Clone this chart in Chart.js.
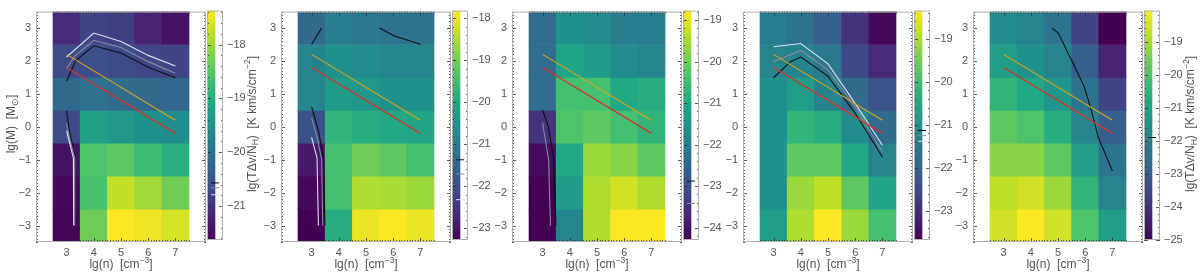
<!DOCTYPE html>
<html>
<head>
<meta charset="utf-8">
<script src="https://cdn.jsdelivr.net/npm/chart.js@4.4.1/dist/chart.umd.min.js"></script>
<style>
  body { margin: 0; background: #fff; width: 1200px; height: 273px; overflow: hidden; position: relative; }
  .box { position: absolute; top: 0; height: 273px; }
</style>
</head>
<body>
<script>
// grid of the maps
const nDens = [3, 4, 5, 6, 7]
const lgMass = [3, 2, 1, 0, -1, -2, -3]

// colour bar ranges, lg(T dv / N_H)
const cbLo = [-21.63, -23.28, -24.30, -23.67, -25.00]
const cbHi = [-17.37, -17.82, -18.77, -18.35, -18.06]

// map values, rows from lg(M)=3 down to -3, columns n = 3..7
const map1 = [
  [-21.12, -20.78, -20.86, -21.20, -21.42],
  [-20.69, -20.61, -20.65, -20.74, -20.78],
  [-20.18, -20.05, -20.14, -20.18, -20.22],
  [-20.69, -19.20, -19.37, -19.50, -19.59],
  [-21.42, -18.56, -18.43, -18.73, -18.95],
  [-21.54, -18.61, -17.75, -17.97, -18.31],
  [-21.59, -18.31, -17.37, -17.46, -17.63]
]
const map2 = [
  [-21.37, -20.99, -21.10, -21.21, -21.21],
  [-20.82, -20.55, -20.66, -20.82, -20.82],
  [-20.82, -20.28, -20.39, -20.55, -20.55],
  [-21.92, -19.73, -19.90, -20.00, -20.11],
  [-22.90, -19.46, -19.02, -19.19, -19.46],
  [-23.17, -19.46, -18.48, -18.53, -18.64],
  [-23.28, -19.90, -17.98, -17.82, -17.98]
]
const map3 = [
  [-22.36, -21.54, -21.65, -21.98, -21.98],
  [-22.36, -21.09, -21.26, -21.65, -21.81],
  [-22.36, -20.43, -20.43, -20.98, -20.87],
  [-23.47, -20.32, -20.15, -20.43, -20.71],
  [-24.13, -20.98, -19.60, -19.77, -20.15],
  [-24.30, -21.26, -19.43, -19.16, -19.43],
  [-24.30, -21.81, -19.43, -18.77, -18.77]
]
const map4 = [
  [-21.44, -21.65, -22.07, -22.87, -23.56],
  [-21.28, -21.28, -21.54, -22.50, -23.03],
  [-21.01, -20.74, -21.28, -21.81, -22.34],
  [-21.01, -20.21, -20.37, -21.12, -21.81],
  [-21.01, -19.68, -19.68, -20.48, -21.28],
  [-21.01, -19.15, -18.88, -19.68, -20.58],
  [-20.74, -18.99, -18.35, -19.15, -19.95]
]
const map5 = [
  [-21.67, -21.88, -22.36, -23.61, -25.00],
  [-21.18, -21.53, -21.88, -22.92, -24.31],
  [-20.49, -20.84, -21.39, -22.36, -23.61],
  [-19.80, -20.00, -20.70, -21.88, -22.92],
  [-19.31, -19.31, -19.80, -21.18, -22.36],
  [-18.75, -18.55, -19.10, -20.49, -21.88],
  [-18.55, -18.06, -18.55, -20.00, -21.18]
]

// straight relations, same in every panel
const fitOrange = [[3, 2.2], [7, 0.2]]
const fitRed = [[3, 1.8], [7, -0.2]]

// curves [lg n, lg M]
const p1Black = [[3, 1.39], [3.34, 2.02], [4, 2.46], [5, 2.24], [6, 1.81], [7, 1.49]]
const p1Grey = [[3, 1.78], [3.3, 2.15], [4, 2.63], [5, 2.41], [6, 1.98], [7, 1.63]]
const p1White = [[3, 2.12], [4, 2.85], [5, 2.59], [6, 2.17], [7, 1.85]]
const p1BlackLow = [[3, 0.48], [3.1, -0.1], [3.32, -0.95], [3.32, -3]]
const p1GreyLow = [[3, 0.1], [3.12, -0.4], [3.3, -0.95], [3.3, -3]]
const p1WhiteLow = [[3, -0.12], [3.25, -0.95], [3.26, -3]]

const p2BlackA = [[3, 2.51], [3.37, 3.0]]
const p2BlackB = [[5.5, 3.0], [6.05, 2.76], [7, 2.51]]
const p2BlackLow = [[3, 0.61], [3.25, -0.12], [3.44, -0.95], [3.49, -3]]
const p2GreyLow = [[3, 0.27], [3.2, -0.32], [3.37, -1.0], [3.41, -3]]
const p2WhiteLow = [[3, -0.32], [3.2, -0.95], [3.25, -3]]

const p3BlackLow = [[3, 0.51], [3.22, -0.02], [3.41, -1.0], [3.49, -3]]
const p3GreyLow = [[3, 0.12], [3.22, -1.0], [3.29, -3]]

const p4White = [[3, 2.43], [4, 2.53], [5, 1.91], [6, 0.71], [7, -0.56]]
const p4Grey = [[3, 1.98], [4, 2.32], [5, 1.73], [6, 0.61], [7, -0.76]]
const p4Black = [[3, 1.49], [3.62, 1.98], [4, 2.12], [5, 1.54], [6, 0.41], [7, -0.92]]

const p5Black = [[4.79, 3.0], [5.01, 2.85], [5.5, 2.02], [5.97, 1.21], [6.24, 0.46], [6.48, -0.32], [7, -1.34]]

// marks on the colour bars (black, grey, white)
const cbMarks1 = [-20.57, -20.66, -20.79]
const cbMarks2 = [-21.37, -21.71, -22.32]
const cbMarks3 = [-22.88, -23.42]
const cbMarks4 = [-21.13, -21.25, -21.38]
const cbMarks5 = [-21.90]

const BLACK = '#111111', GREY = '#8a8a9c', WHITE = '#dcdcf2'
const ORANGE = '#d8a31a', RED = '#d6352a'
const TXT = '#555555'
const FONT = 'Liberation Sans, Arial, sans-serif'

const viridisStops = ['#440154', '#482475', '#414487', '#355f8d', '#2a788e', '#21918c',
  '#22a884', '#44bf70', '#7ad151', '#bddf26', '#fde725']

const hex = h => [parseInt(h.slice(1, 3), 16), parseInt(h.slice(3, 5), 16), parseInt(h.slice(5, 7), 16)]
const viridis = t => {
  t = Math.max(0, Math.min(1, t))
  const f = t * 10, i = Math.min(9, Math.floor(f)), r = f - i
  const a = hex(viridisStops[i]), b = hex(viridisStops[i + 1])
  const c = a.map((v, k) => Math.round(v + (b[k] - v) * r))
  return `rgb(${c[0]},${c[1]},${c[2]})`
}

const minus = v => (v < 0 ? '\u2212' + Math.abs(v) : String(v))
// integer ticks between the axis limits
const intTicks = s => {
  const t = []
  for (let v = Math.ceil(s.min - 1e-9); v <= s.max + 1e-9; v++) t.push({ value: v })
  s.ticks = t
}
const pts = arr => arr.map(([x, y]) => ({ x, y }))

// text with sub/superscripts
const drawRich = (ctx, segs, cx, cy, rot, size) => {
  ctx.save()
  ctx.translate(cx, cy)
  if (rot) ctx.rotate(-Math.PI / 2)
  ctx.fillStyle = TXT
  ctx.textBaseline = 'middle'
  ctx.textAlign = 'left'
  const fontOf = s => (s.s ? size * 0.72 : size) + 'px ' + FONT
  let total = 0
  segs.forEach(s => { ctx.font = fontOf(s); total += ctx.measureText(s.t).width })
  let x = -total / 2
  segs.forEach(s => {
    ctx.font = fontOf(s)
    const dy = s.s === 'sup' ? -size * 0.38 : s.s === 'sub' ? size * 0.28 : 0
    ctx.fillText(s.t, x, dy)
    x += ctx.measureText(s.t).width
  })
  ctx.restore()
}

const richText = {
  id: 'richText',
  afterDraw(chart, args, opts) {
    (opts.items || []).forEach(it => drawRich(chart.ctx, it.segs, it.x, it.y, it.rot, it.size))
  }
}

// frame and small inward ticks along the edges
const frameTicks = {
  id: 'frameTicks',
  afterDatasetsDraw(chart, args, opts) {
    if (!opts.on) return
    const { ctx, chartArea: a } = chart
    ctx.save()
    ctx.strokeStyle = 'rgba(40,40,40,0.75)'
    ctx.lineWidth = 1
    ctx.beginPath()
    const ys = chart.scales.y
    for (let v = Math.ceil(ys.min / opts.ystep) * opts.ystep; v <= ys.max + 1e-9; v += opts.ystep) {
      const p = Math.round(ys.getPixelForValue(v)) + 0.5
      const L = Math.abs(v - Math.round(v)) < 1e-6 ? 4 : 2
      ctx.moveTo(a.left, p); ctx.lineTo(a.left + L, p)
      ctx.moveTo(a.right, p); ctx.lineTo(a.right - L, p)
    }
    if (opts.xstep) {
      const xs = chart.scales.x
      for (let v = Math.ceil(xs.min / opts.xstep) * opts.xstep; v <= xs.max + 1e-9; v += opts.xstep) {
        const p = Math.round(xs.getPixelForValue(v)) + 0.5
        const L = Math.abs(v - Math.round(v)) < 1e-6 ? 4 : 2
        ctx.moveTo(p, a.top); ctx.lineTo(p, a.top + L)
        ctx.moveTo(p, a.bottom); ctx.lineTo(p, a.bottom - L)
      }
    }
    ctx.stroke()
    ctx.strokeStyle = '#b0b0b0'
    ctx.strokeRect(a.left + 0.5, a.top + 0.5, a.right - a.left - 1, a.bottom - a.top - 1)
    ctx.restore()
  }
}

Chart.register(richText, frameTicks)

const plotLeft = [36, 281, 512, 743, 973]
const PW = 170, PAD = 40

const lineDs = (arr, color, w = 1.1) => ({
  type: 'line', data: pts(arr), borderColor: color, borderWidth: w,
  pointRadius: 0, tension: 0, order: 0, clip: false
})

const titleTD = [
  { t: 'lg(T\u0394v/N' }, { t: 'H', s: 'sub' }, { t: ')  [K km/s/cm' }, { t: '\u22122', s: 'sup' }, { t: ']' }
]
const titleM = [{ t: 'lg(M)  [M' }, { t: '\u2299', s: 'sub' }, { t: ']' }]
const titleN = [{ t: 'lg(n)  [cm' }, { t: '\u22123', s: 'sup' }, { t: ']' }]

const makeBox = (left, width) => {
  const d = document.createElement('div')
  d.className = 'box'
  d.style.left = left + 'px'
  d.style.width = width + 'px'
  const c = document.createElement('canvas')
  d.appendChild(c)
  document.body.appendChild(d)
  return c
}

const noGrid = { display: false, drawTicks: false }

const panel = (i, map, curves, marks, leftTitle, rightTitle) => {
  const lo = cbLo[i], hi = cbHi[i]
  const cellSets = lgMass.map((m, r) => ({
    type: 'bar',
    data: nDens.map(n => ({ x: n, y: [m - 0.5, m + 0.5] })),
    backgroundColor: map[r].map(v => viridis((v - lo) / (hi - lo))),
    borderWidth: 0, barPercentage: 1, categoryPercentage: 1, grouped: false, order: 5
  }))
  const lines = [lineDs(fitOrange, ORANGE), lineDs(fitRed, RED, 1.3)].concat(curves.map(c => lineDs(c[0], c[1])))
  const items = [{ segs: titleN, x: PAD + PW / 2, y: 265, rot: false, size: 12 }]
  if (leftTitle) items.push({ segs: leftTitle.segs, x: leftTitle.x, y: 124, rot: true, size: 12 })

  const tickFont = { family: FONT, size: 11 }
  new Chart(makeBox(plotLeft[i] - PAD, PAD + PW), {
    type: 'bar',
    data: { datasets: cellSets.concat(lines) },
    options: {
      responsive: true, maintainAspectRatio: false, animation: false,
      layout: { padding: { top: 3, left: 0, right: 0, bottom: 0 } },
      plugins: { legend: { display: false }, tooltip: { enabled: false },
        richText: { items }, frameTicks: { on: true, xstep: 0.1, ystep: 0.1 } },
      scales: {
        x: { type: 'linear', min: 2.5, max: 7.5, afterBuildTicks: intTicks, afterFit: s => { s.height = 31 },
          grid: noGrid, border: { display: false },
          ticks: { padding: 4, color: TXT, font: tickFont, callback: minus } },
        y: { type: 'linear', min: -3.5, max: 3.5, afterBuildTicks: intTicks, afterFit: s => { s.width = PAD },
          grid: noGrid, border: { display: false },
          ticks: { padding: 5, color: TXT, font: tickFont, callback: minus } }
      }
    }
  })

  // colour bar
  const cbW = rightTitle ? 55 : 50
  const markColors = [BLACK, GREY, WHITE]
  const markSets = marks.map((v, k) => ({
    type: 'line', xAxisID: 'x2', data: [{ x: 0, y: v }, { x: 1, y: v }],
    borderColor: markColors[k], borderWidth: 1, pointRadius: 0, order: 0
  }))
  const cbItems = rightTitle ? [{ segs: rightTitle, x: 47, y: 124, rot: true, size: 12 }] : []
  new Chart(makeBox(plotLeft[i] + PW + 1, cbW), {
    type: 'bar',
    data: {
      labels: ['c'],
      datasets: [{
        data: [[lo, hi]], borderWidth: 0, barPercentage: 1, categoryPercentage: 1, order: 5,
        backgroundColor: ctx => {
          const a = ctx.chart.chartArea
          if (!a) return '#888'
          const g = ctx.chart.ctx.createLinearGradient(0, a.bottom, 0, a.top)
          viridisStops.forEach((c, k) => g.addColorStop(k / 10, c))
          return g
        }
      }].concat(markSets)
    },
    options: {
      responsive: true, maintainAspectRatio: false, animation: false,
      layout: { padding: { top: 3, left: 0, right: 0, bottom: 33 } },
      plugins: { legend: { display: false }, tooltip: { enabled: false },
        richText: { items: cbItems }, frameTicks: { on: true, ystep: 0.2 } },
      scales: {
        x: { type: 'category', display: false },
        x2: { type: 'linear', min: 0, max: 1, display: false },
        y: { type: 'linear', position: 'right', min: lo, max: hi, afterBuildTicks: intTicks,
          afterFit: s => { s.width = cbW - 16 },
          grid: noGrid, border: { display: false },
          ticks: { padding: 4, color: TXT, font: tickFont, callback: minus } }
      }
    }
  })
}

panel(0, map1,
  [[p1White, WHITE], [p1Grey, GREY], [p1Black, BLACK], [p1WhiteLow, WHITE], [p1GreyLow, GREY], [p1BlackLow, BLACK]],
  cbMarks1, { segs: titleM, x: 16 }, null)
panel(1, map2,
  [[p2BlackA, BLACK], [p2BlackB, BLACK], [p2WhiteLow, WHITE], [p2GreyLow, GREY], [p2BlackLow, BLACK]],
  cbMarks2, { segs: titleTD, x: 11.5 }, null)
panel(2, map3, [[p3GreyLow, GREY], [p3BlackLow, BLACK]], cbMarks3, null, null)
panel(3, map4, [[p4White, WHITE], [p4Grey, GREY], [p4Black, BLACK]], cbMarks4, null, null)
panel(4, map5, [[p5Black, BLACK]], cbMarks5, null, titleTD)
</script>
</body>
</html>
